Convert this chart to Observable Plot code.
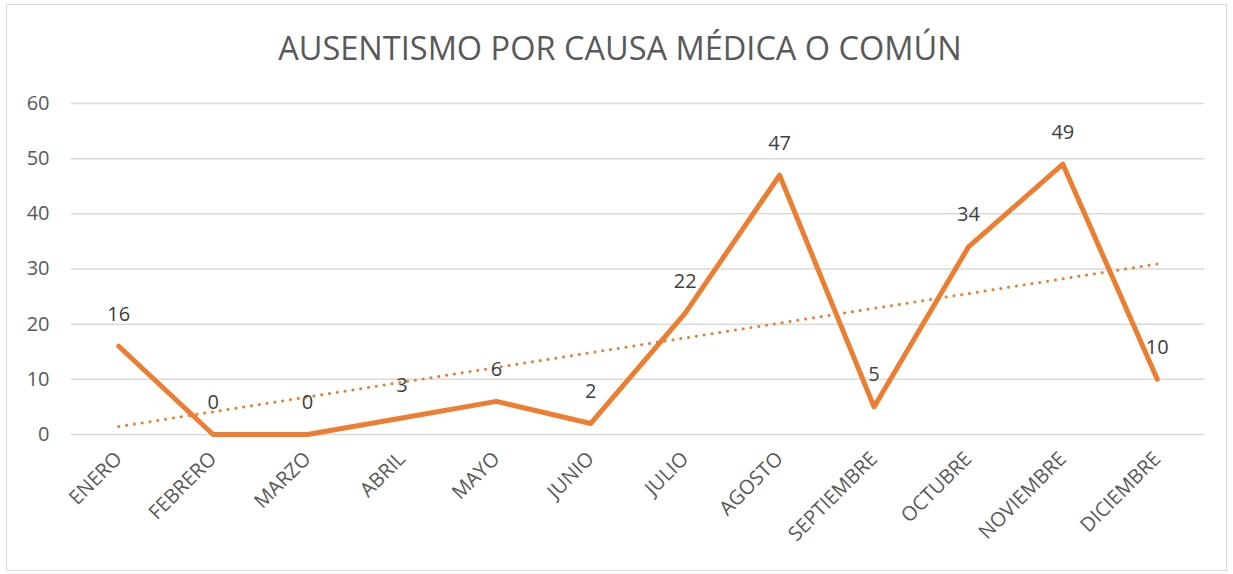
<!DOCTYPE html>
<html>
<head>
<meta charset="utf-8">
<script src="https://cdn.jsdelivr.net/npm/d3@7"></script>
<script src="https://cdn.jsdelivr.net/npm/@observablehq/plot@0.6"></script>
<style>
  html, body { margin: 0; padding: 0; background: #fff; }
  #wrap { position: relative; width: 1233px; height: 574px; overflow: hidden; font-family: "Open Sans", sans-serif; }
  #frame { position: absolute; left: 6px; top: 4px; width: 1219px; height: 565px; border: 1.5px solid #d9d9d9; }
  #title { position: absolute; left: 0; width: 1240px; top: 26px; text-align: center; font-size: 32.5px; line-height: 44px; color: #595959; }
  #chart { position: absolute; left: 0; top: 80px; }
</style>
</head>
<body>
<div id="wrap">
  <div id="frame"></div>
  <div id="title">AUSENTISMO POR CAUSA MÉDICA O COMÚN</div>
  <div id="chart"></div>
</div>
<script>
const months = ["ENERO","FEBRERO","MARZO","ABRIL","MAYO","JUNIO","JULIO","AGOSTO","SEPTIEMBRE","OCTUBRE","NOVIEMBRE","DICIEMBRE"];
const values = [16, 0, 0, 3, 6, 2, 22, 47, 5, 34, 49, 10];
const yTicks = [0, 10, 20, 30, 40, 50, 60];

const data = months.map((m, i) => ({idx: i + 1, month: m, value: values[i]}));
const orange = "#ED7D31";

const plot = Plot.plot({
  width: 1233,
  height: 494,
  marginLeft: 71,
  marginRight: 29,
  marginTop: 23,
  marginBottom: 140,
  style: {fontFamily: "Open Sans, sans-serif", background: "transparent"},
  x: {domain: [0.5, 12.5], label: null},
  y: {domain: [0, 60], label: null},
  marks: [
    Plot.gridY(yTicks, {stroke: "#d9d9d9", strokeOpacity: 1, strokeWidth: 1.5}),
    Plot.axisY({ticks: yTicks, tickSize: 0, tickPadding: 22, fontSize: 20, fill: "#595959", label: null}),
    Plot.axisX({ticks: d3.range(1, 13), tickFormat: d => months[d - 1], tickSize: 0, tickPadding: 21, tickRotate: -45, fontSize: 20, fill: "#595959", label: null}),
    Plot.linearRegressionY(data, {x: "idx", y: "value", ci: 0, stroke: orange, strokeWidth: 3, strokeDasharray: "0.1,7.8", strokeLinecap: "round"}),
    Plot.line(data, {x: "idx", y: "value", stroke: orange, strokeWidth: 5, strokeLinejoin: "round", strokeLinecap: "round"}),
    Plot.text(data, {x: "idx", y: "value", text: d => String(d.value), dy: -32, fontSize: 20, fill: "#404040"})
  ]
});
document.getElementById("chart").appendChild(plot);
</script>
</body>
</html>
